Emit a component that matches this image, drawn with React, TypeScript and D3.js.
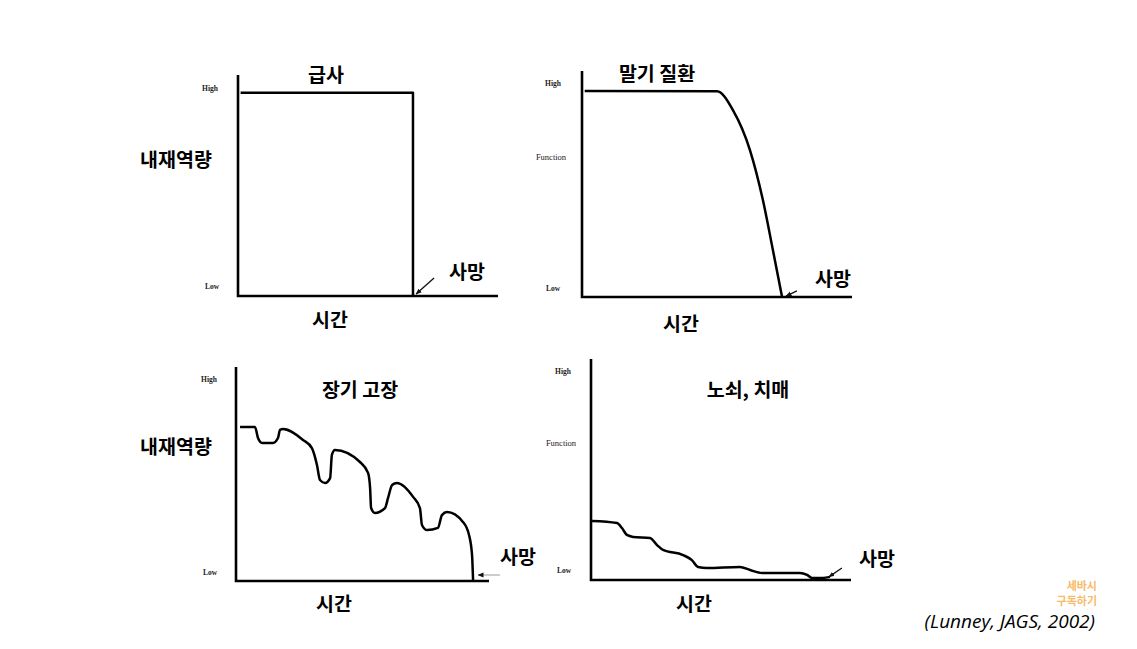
import React from "react";
import * as d3 from "d3";

type Pt = [number, number];

// Trajectory data: [time (0-100), function (0-100)]
const TITLES = ["급사", "말기 질환", "장기 고장", "노쇠, 치매"];
const Y_LABEL = "내재역량";
const X_LABEL = "시간";
const DEATH_LABEL = "사망";
const HIGH_TICK = "High";
const LOW_TICK = "Low";
const MID_TICK = "Function";

const suddenDeath: Pt[] = [
  [1, 92], [67.3, 92], [67.3, 0],
];
const terminalIllness: Pt[] = [
  [1, 91.2], [50, 91], [55.9, 82.7], [62.2, 65], [67, 42.9], [70.7, 20.8], [74.1, 0],
];
const organFailure: Pt[] = [
  [1.6, 72], [7.5, 72], [8.7, 66.8], [10.3, 64.5], [14.6, 64.5], [16.6, 66.8], [17.4, 70.6],
  [18.6, 71], [26.5, 65.9], [30, 62.1], [32, 54.2], [33.2, 47.2], [35.2, 45.8], [37.2, 48.1],
  [37.9, 58.9], [39.1, 61.2], [49, 55.6], [52.2, 50.5], [53, 43.5], [53.4, 34.1], [54.9, 31.8],
  [58.9, 34.1], [60.1, 38.8], [61.7, 44.9], [63.6, 45.8], [70, 39.3], [72.7, 34.1], [73.5, 26.2],
  [75.5, 23.8], [79.8, 24.8], [81.4, 30.8], [83.4, 32.2], [89.7, 27.6], [92.1, 21.5], [93.3, 12.1],
  [93.7, 0.5],
];
const frailty: Pt[] = [
  [0.4, 26.7], [10, 25.8], [11.9, 23.5], [13.8, 20.4], [16.2, 19.5], [22.7, 19], [25.4, 15.8],
  [27.7, 13.6], [35.4, 11.3], [38.8, 9], [41.2, 5.9], [44.6, 5.4], [57.3, 5.9], [61.2, 4.5],
  [65.8, 3.2], [80.4, 3.2], [83.1, 2.3], [85, 0.9], [89.2, 0.9], [91.9, 1.4],
];
// death arrows: [fromX, fromY, toX, toY] in data units
const deathArrows: [number, number, number, number][] = [
  [75.4, 8.1, 68.5, 0.9],
  [79.6, 2.7, 75.6, 0.4],
  [104.3, 2.8, 95.7, 2.8],
  [96.5, 5.4, 91.5, 1.4],
];
const CITATION = "(Lunney, JAGS, 2002)";
const WATERMARK = ["세바시", "구독하기"];

const SERIES = [suddenDeath, terminalIllness, organFailure, frailty];

// layout
interface Layout {
  x: [number, number];
  y: [number, number];
  high: Pt; low: Pt; mid?: Pt; title: Pt; ylab?: Pt; xlab: Pt; death: Pt;
  curve: d3.CurveFactory; arrowGray?: boolean;
}
const LAYOUTS: Layout[] = [
  { x: [238, 498], y: [296, 75], high: [210, 88], low: [212, 286], title: [326, 73], ylab: [176, 158], xlab: [330, 318], death: [467, 270], curve: d3.curveLinear },
  { x: [582, 852], y: [297, 71], high: [553, 83], low: [553, 288], mid: [551, 157], title: [657, 72], xlab: [681, 322], death: [833, 277], curve: d3.curveMonotoneX },
  { x: [236, 489], y: [581, 367], high: [209, 379], low: [210, 572], title: [360, 388], ylab: [176, 445], xlab: [334, 602], death: [518, 555], curve: d3.curveMonotoneX, arrowGray: true },
  { x: [591, 851], y: [580, 359], high: [563, 371], low: [564, 570], mid: [561, 443], title: [748, 388], xlab: [694, 602], death: [877, 557], curve: d3.curveMonotoneX },
];

const KFONT = "'Noto Sans CJK KR', 'Noto Sans', sans-serif";
const SFONT = "'Liberation Serif', 'DejaVu Serif', serif";

function Panel({ data, L, title, arrow, idx }: { data: Pt[]; L: Layout; title: string; arrow: [number, number, number, number]; idx: number }) {
  const x = d3.scaleLinear().domain([0, 100]).range(L.x);
  const y = d3.scaleLinear().domain([0, 100]).range(L.y);
  const line = d3.line<Pt>().x(d => x(d[0])).y(d => y(d[1])).curve(L.curve);
  const axis = d3.line<Pt>().x(d => x(d[0])).y(d => y(d[1]));
  const axisPts: Pt[] = [[0, 100], [0, 0], [100, 0]];
  const arrowColor = L.arrowGray ? "#999" : "#111";
  const kText = (p: Pt, s: string, size = 19.5) => (
    <text x={p[0]} y={p[1]} textAnchor="middle" dominantBaseline="central" fontFamily={KFONT} fontWeight={700} fontSize={size} fill="#000">{s}</text>
  );
  const sText = (p: Pt, s: string, bold: boolean, size = 7.5) => (
    <text x={p[0]} y={p[1]} textAnchor="middle" dominantBaseline="central" fontFamily={SFONT} fontWeight={bold ? 700 : 400} fontSize={size} fill="#222">{s}</text>
  );
  return (
    <g>
      <path d={axis(axisPts) || ""} fill="none" stroke="#000" strokeWidth={2.6} strokeLinejoin="miter" />
      <path d={line(data) || ""} fill="none" stroke="#000" strokeWidth={2.5} strokeLinejoin="round" />
      <line x1={x(arrow[0])} y1={y(arrow[1])} x2={x(arrow[2])} y2={y(arrow[3])} stroke={arrowColor} strokeWidth={L.arrowGray ? 1 : 1.3} markerEnd={`url(#arrowhead${idx})`} />
      <defs>
        <marker id={`arrowhead${idx}`} viewBox="0 0 10 10" refX={9} refY={5} markerWidth={6} markerHeight={6} markerUnits="userSpaceOnUse" orient="auto">
          <path d="M0,1 L10,5 L0,9 z" fill="#111" />
        </marker>
      </defs>
      {sText(L.high, HIGH_TICK, true)}
      {sText(L.low, LOW_TICK, true)}
      {L.mid && sText(L.mid, MID_TICK, false, 8.5)}
      {kText(L.title, title)}
      {L.ylab && kText(L.ylab, Y_LABEL)}
      {kText(L.xlab, X_LABEL)}
      {kText(L.death, DEATH_LABEL)}
    </g>
  );
}

export default function App() {
  return (
    <svg width={1137} height={649} style={{ position: "absolute", left: 0, top: 0, background: "#fff" }}>
      <rect width={1137} height={649} fill="#fff" />
      {SERIES.map((s, i) => (
        <Panel key={i} data={s} L={LAYOUTS[i]} title={TITLES[i]} arrow={deathArrows[i]} idx={i} />
      ))}
      <text x={1095} y={621} textAnchor="end" dominantBaseline="central" fontFamily="'Open Sans', sans-serif" fontStyle="italic" fontSize={19} fill="#000">{CITATION}</text>
      {WATERMARK.map((w, i) => (
        <text key={w} x={1097} y={585 + i * 14.5} textAnchor="end" dominantBaseline="central" fontFamily={KFONT} fontWeight={700} fontSize={11} fill="#f7b45a" opacity={0.9}>{w}</text>
      ))}
    </svg>
  );
}
